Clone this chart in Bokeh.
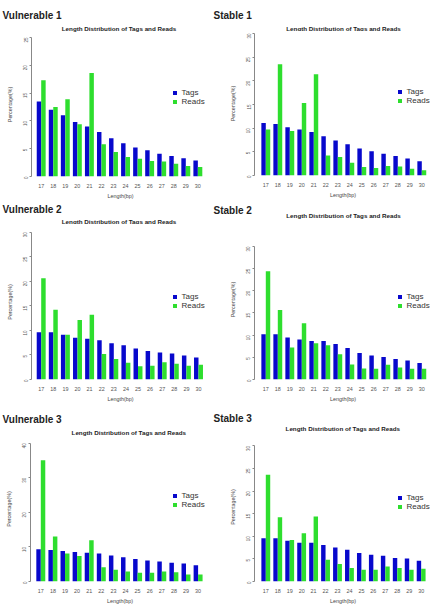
import math
from bokeh.plotting import figure
from bokeh.models import (Range1d, FixedTicker, Label, Legend, LegendItem,
                          LinearAxis, ColumnDataSource)
from bokeh.transform import dodge
from bokeh.layouts import gridplot, column
from bokeh.embed import file_html
from bokeh.resources import INLINE

# ---------------- data ----------------
lengths = [17, 18, 19, 20, 21, 22, 23, 24, 25, 26, 27, 28, 29, 30]
panel_names = ["Vulnerable 1", "Stable 1", "Vulnerable 2", "Stable 2",
               "Vulnerable 3", "Stable 3"]
chart_title = "Length Distribution of Tags and Reads"
series_names = ["Tags", "Reads"]
x_axis_label = "Length(bp)"
y_axis_label = "Percentage(%)"

tags_v1 = [13.5, 12.0, 11.0, 9.8, 9.0, 8.0, 6.9, 6.0, 5.2, 4.7, 4.1, 3.7, 3.3, 2.9]
reads_v1 = [17.3, 12.5, 13.9, 9.4, 18.6, 5.8, 4.4, 3.5, 3.2, 2.8, 2.7, 2.3, 1.9, 1.7]
tags_s1 = [11.1, 10.9, 10.2, 9.7, 9.2, 8.3, 7.4, 6.6, 5.7, 5.1, 4.6, 4.1, 3.6, 3.0]
reads_s1 = [9.7, 23.5, 9.4, 15.3, 21.4, 4.2, 3.9, 2.7, 1.8, 1.6, 2.0, 1.9, 1.4, 1.1]
tags_v2 = [9.6, 9.6, 9.1, 8.5, 8.3, 8.0, 7.4, 7.0, 6.3, 5.8, 5.5, 5.3, 4.9, 4.5]
reads_v2 = [20.6, 14.2, 9.1, 12.1, 13.2, 5.2, 4.2, 3.4, 2.7, 2.8, 3.5, 3.2, 2.8, 3.0]
tags_s2 = [10.2, 10.2, 9.5, 9.0, 8.7, 8.7, 8.0, 7.1, 6.0, 5.4, 5.1, 4.6, 4.3, 3.7]
reads_s2 = [24.4, 15.7, 7.2, 12.7, 8.2, 7.7, 5.7, 3.4, 2.5, 2.4, 3.3, 2.7, 2.4, 2.4]
tags_v3 = [9.3, 9.1, 8.8, 8.5, 8.3, 8.1, 7.5, 7.0, 6.5, 6.1, 5.8, 5.4, 5.2, 4.7]
reads_v3 = [35.1, 13.0, 8.1, 7.4, 11.9, 4.1, 3.4, 2.9, 2.5, 2.5, 2.9, 2.7, 2.0, 2.0]
tags_s3 = [9.6, 9.6, 9.0, 8.6, 8.6, 8.1, 7.5, 7.0, 6.3, 5.9, 5.7, 5.2, 5.1, 4.6]
reads_s3 = [23.6, 14.2, 9.2, 10.7, 14.4, 4.8, 3.9, 3.0, 2.6, 2.6, 3.3, 3.0, 2.6, 2.8]

tags_all = [tags_v1, tags_s1, tags_v2, tags_s2, tags_v3, tags_s3]
reads_all = [reads_v1, reads_s1, reads_v2, reads_s2, reads_v3, reads_s3]
y_max = [25, 30, 30, 30, 40, 30]
y_step = [5, 5, 5, 5, 10, 5]

# ---------------- layout / style ----------------
H = 202
COL_W = [211, 227]
COL_FRAME_RIGHT = [209, 220]
GEOM = [
    dict(axis=31, c0=40.7, pitch=12.05, top=37, bottom=176, lab=(2, 15), tit=(118.5, 28), leg=(174, 92)),
    dict(axis=43, c0=54.3, pitch=12.0, top=33, bottom=175, lab=(2, 15), tit=(132, 27.7), leg=(188, 91.7)),
    dict(axis=31, c0=40.7, pitch=12.1, top=30, bottom=183, lab=(2, 7.3), tit=(118.5, 19), leg=(174, 100.7)),
    dict(axis=43, c0=54.3, pitch=12.0, top=45, bottom=183, lab=(2, 8.3), tit=(132, 13.3), leg=(188, 100)),
    dict(axis=30, c0=40.3, pitch=12.1, top=39, bottom=183, lab=(2, 15), tit=(128.3, 28.3), leg=(174, 97.7)),
    dict(axis=43, c0=54.3, pitch=11.95, top=42, bottom=183, lab=(2, 14.3), tit=(131.3, 24.3), leg=(188, 99.3)),
]
BLUE = "#0808cc"
GREEN = "#2ede2e"
FONT = "Liberation Sans"
BAR_W = 0.37


def make_header(i, hh, W):
    g = GEOM[i]
    h = figure(width=W, height=hh, output_backend="svg", toolbar_location=None,
               x_axis_type=None, y_axis_type=None,
               x_range=Range1d(0, W), y_range=Range1d(hh, 0),
               min_border=0, frame_align=False)
    h.outline_line_color = None
    h.add_layout(Label(x=g["lab"][0], y=g["lab"][1], text=panel_names[i],
                       text_baseline="middle", text_font=FONT, text_font_size="10px",
                       text_font_style="bold", text_color="#222222"))
    h.add_layout(Label(x=g["tit"][0], y=g["tit"][1], text=chart_title,
                       text_baseline="middle", text_align="center", text_font=FONT,
                       text_font_size="6.25px", text_font_style="bold",
                       text_color="#222222"))
    return h


def make_panel(i):
    g = GEOM[i]
    W = COL_W[i % 2]
    fr = COL_FRAME_RIGHT[i % 2]
    hh = int(round(g["tit"][1] + 3.5))
    left = g["axis"]
    ch = H - hh
    frame_bottom = g["bottom"] - hh      # in chart-figure pixels
    ppu = (g["bottom"] - g["top"]) / y_max[i]
    y_end = y_max[i] + (g["top"] - hh) / ppu
    x0 = lengths[0] - (g["c0"] - left) / g["pitch"]
    x1 = lengths[0] + (fr - g["c0"]) / g["pitch"]
    p = figure(width=W, height=ch, output_backend="svg", toolbar_location=None,
               x_axis_type=None, y_axis_type=None,
               x_range=Range1d(x0, x1), y_range=Range1d(0, y_end),
               min_border_left=left, min_border_right=W - fr,
               min_border_top=0, min_border_bottom=ch - frame_bottom,
               frame_align=False)
    p.outline_line_color = None
    src = ColumnDataSource(dict(length=lengths, tags=tags_all[i], reads=reads_all[i]))
    r1 = p.vbar(x=dodge("length", -BAR_W / 2, range=p.x_range), top="tags", width=BAR_W,
                source=src, fill_color=BLUE, line_color=None)
    r2 = p.vbar(x=dodge("length", BAR_W / 2, range=p.x_range), top="reads", width=BAR_W,
                source=src, fill_color=GREEN, line_color=None)

    ya = LinearAxis(ticker=FixedTicker(ticks=list(range(0, y_max[i] + 1, y_step[i]))),
                    axis_label=y_axis_label, bounds=(0, y_max[i]))
    ya.major_label_orientation = math.pi / 2
    ya.major_tick_out = 2
    ya.major_tick_in = 0
    ya.minor_tick_out = 0
    ya.minor_tick_in = 0
    ya.major_label_standoff = 4
    ya.axis_label_standoff = 6
    ya.major_label_text_font_size = "4.5px"
    ya.major_label_text_color = "#555555"
    ya.major_label_text_font = FONT
    ya.axis_label_text_font_size = "5.3px"
    ya.axis_label_text_font_style = "normal"
    ya.axis_label_text_font = FONT
    ya.axis_label_text_color = "#444444"
    ya.axis_line_color = "#888888"
    ya.major_tick_line_color = "#888888"
    p.add_layout(ya, "left")

    xa = LinearAxis(ticker=FixedTicker(ticks=lengths), axis_label=x_axis_label)
    xa.axis_line_color = None
    xa.major_tick_line_color = None
    xa.minor_tick_line_color = None
    xa.major_tick_out = 0
    xa.major_tick_in = 0
    xa.minor_tick_out = 0
    xa.minor_tick_in = 0
    xa.major_label_standoff = 7
    xa.axis_label_standoff = 2
    xa.major_label_text_font_size = "5.4px"
    xa.major_label_text_color = "#555555"
    xa.major_label_text_font = FONT
    xa.axis_label_text_font_size = "5.4px"
    xa.axis_label_text_font_style = "normal"
    xa.axis_label_text_font = FONT
    xa.axis_label_text_color = "#444444"
    p.add_layout(xa, "below")

    gw = 5
    row_h = 9
    lx, ly = g["leg"]
    leg = Legend(items=[LegendItem(label=series_names[0], renderers=[r1]),
                        LegendItem(label=series_names[1], renderers=[r2])],
                 location=(lx - gw / 2 - left, g["bottom"] - (ly + row_h + row_h / 2)),
                 glyph_width=gw, glyph_height=gw, label_height=row_h, label_width=10,
                 spacing=0, padding=0, margin=0, label_standoff=5,
                 border_line_color=None, background_fill_alpha=0,
                 label_text_font_size="8px", label_text_font=FONT,
                 label_text_color="#333333")
    p.add_layout(leg)
    return column(make_header(i, hh, W), p, spacing=0)


panels = [make_panel(i) for i in range(6)]
grid = gridplot([[panels[0], panels[1]], [panels[2], panels[3]], [panels[4], panels[5]]],
                toolbar_location=None)

open("out.html", "w").write(file_html(grid, INLINE))
